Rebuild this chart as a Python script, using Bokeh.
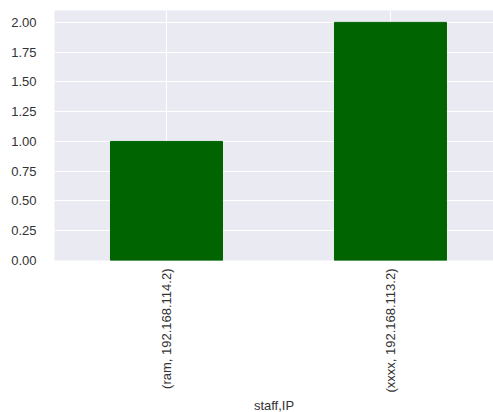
from math import pi
from bokeh.plotting import figure
from bokeh.models import FixedTicker, Range1d, Title
from bokeh.embed import file_html
from bokeh.resources import INLINE

categories = ["(ram, 192.168.114.2)", "(xxxx, 192.168.113.2)"]
counts = [1, 2]
y_ticks = [0.0, 0.25, 0.5, 0.75, 1.0, 1.25, 1.5, 1.75, 2.0]
y_tick_labels = ["0.00", "0.25", "0.50", "0.75", "1.00", "1.25", "1.50", "1.75", "2.00"]
x_axis_title = "staff,IP"

xs = list(range(len(categories)))

p = figure(width=493, height=412, output_backend="svg", toolbar_location=None,
           x_range=Range1d(-0.5, 1.46), y_range=Range1d(0, 2.1),
           min_border_left=54, min_border_right=0, min_border_top=10, min_border_bottom=150)
p.background_fill_color = "#EAEAF2"
p.border_fill_color = "white"
p.outline_line_color = None

p.vbar(x=xs, top=counts, width=0.5, bottom=0, fill_color="#006400", line_color="#006400")

font = "Liberation Sans"
p.xaxis.ticker = FixedTicker(ticks=xs)
p.xaxis.major_label_overrides = {i: c for i, c in zip(xs, categories)}
p.xaxis.major_label_orientation = pi / 2
p.yaxis.ticker = FixedTicker(ticks=y_ticks)
p.yaxis.major_label_overrides = {t: l for t, l in zip(y_ticks, y_tick_labels)}

for ax in (p.xaxis, p.yaxis):
    ax.axis_line_color = None
    ax.major_tick_line_color = None
    ax.minor_tick_line_color = None
    ax.major_label_text_font = font
    ax.major_label_text_font_size = "13px"
    ax.major_label_text_color = "#333333"
p.yaxis.major_label_standoff = 12
p.xaxis.major_label_standoff = 2

t = Title(text=x_axis_title, align="center", text_font=font, text_font_size="13px",
          text_font_style="normal", text_color="#333333", standoff=0, offset=0,
          text_line_height=1.0)
p.add_layout(t, "below")

p.xgrid.grid_line_color = "white"
p.ygrid.grid_line_color = "white"
p.xgrid.ticker = FixedTicker(ticks=xs)
p.ygrid.ticker = FixedTicker(ticks=y_ticks)

open("out.html", "w").write(file_html(p, INLINE))
